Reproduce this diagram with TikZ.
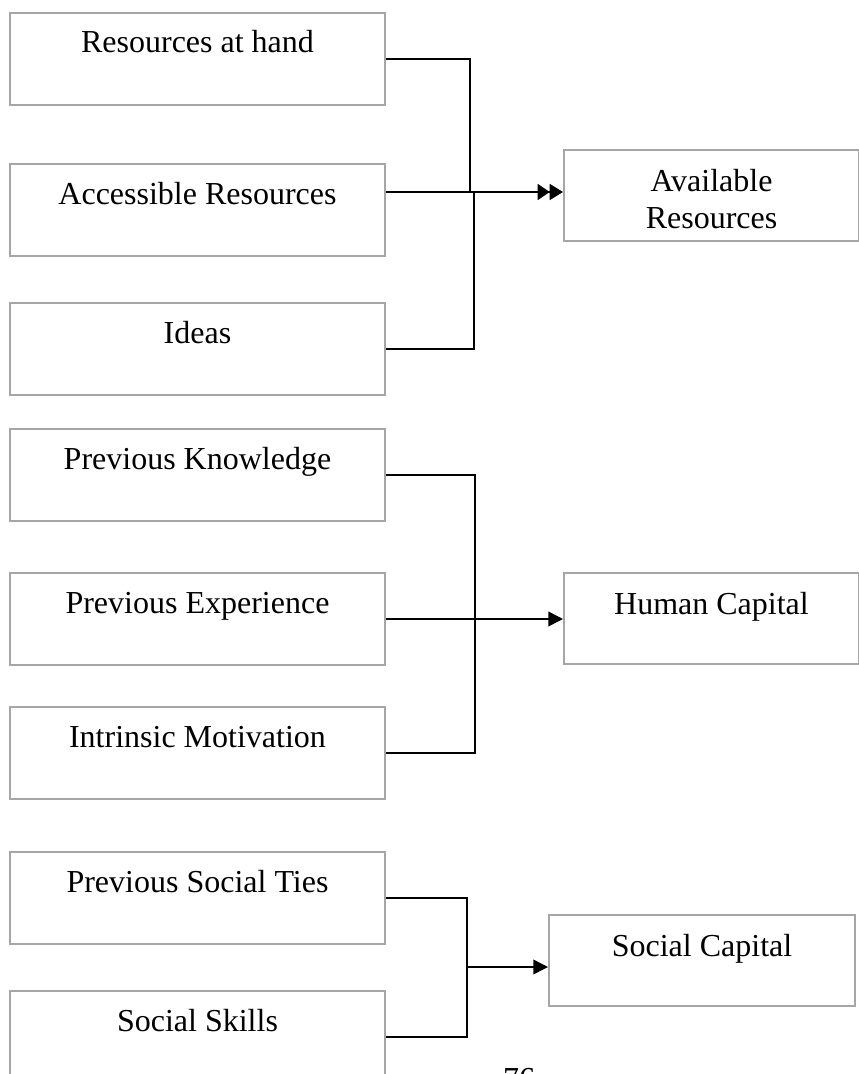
\documentclass[tikz,border=0pt]{standalone}
\usepackage{fontspec}
\setmainfont{Liberation Serif}
\usetikzlibrary{arrows.meta}
\definecolor{boxgray}{RGB}{166,166,166}

\begin{document}
\begin{tikzpicture}[x=0.75pt,y=0.75pt,yscale=-1,xscale=1,
    srcbox/.style={draw=boxgray, line width=1.5pt, anchor=north west, inner sep=0pt,
      minimum width=281.25pt, minimum height=69pt, text height=30pt, text depth=39pt,
      font=\fontsize{24}{27.75}\selectfont},
    sinkbox/.style={srcbox, minimum width=221.25pt, minimum height=68.25pt,
      text height=30.75pt, text depth=37.5pt, align=center},
    twoline/.style={text height=58.5pt, text depth=9.75pt},
    link/.style={line width=0.8pt},
    flowarrow/.style={line width=1.1pt, -{Triangle[length=11pt,width=11pt]}},
    flowdouble/.style={line width=1.3pt, -{Triangle[length=9pt,width=12pt,sep=0pt]Triangle[length=10pt,width=12pt]}}]
  %set diagram frame: 859 wide, 1074 high
  \useasboundingbox (0,0) rectangle (859,1074);
  \clip (0,0) rectangle (859,1074);

  %Shape: Rectangle -- available resources group
  \node[srcbox] (hand) at (9,12) {Resources at hand};
  \node[srcbox] (acc) at (9,163) {Accessible Resources};
  \node[srcbox] (ideas) at (9,302) {Ideas};
  \node[sinkbox, twoline] (avail) at (563,149) {Available\\Resources};

  %Shape: Rectangle -- human capital group
  \node[srcbox] (pk) at (9,428) {Previous Knowledge};
  \node[srcbox] (pe) at (9,572) {Previous Experience};
  \node[srcbox] (im) at (9,706) {Intrinsic Motivation};
  \node[sinkbox] (hc) at (563,572) {Human Capital};

  %Shape: Rectangle -- social capital group
  \node[srcbox] (pst) at (9,851) {Previous Social Ties};
  \node[srcbox] (ss) at (9,990) {Social Skills};
  \node[sinkbox, minimum width=229.5pt] (soc) at (548,914) {Social Capital};

  % Text Node
  \node[anchor=base, inner sep=0pt, font=\fontsize{24}{27.75}\selectfont] (pgnum) at (519,1089) {76};

  %Straight Lines
  \coordinate (jA1) at (470,192);
  \coordinate (jA2) at (474,192);
  \draw[link] (hand.east) -| (jA1);
  \draw[link] (ideas.east) -| (jA2);
  \draw[link] (acc.east |- jA2) -- (jA2);
  \draw[flowdouble] (jA2) -- (jA2 -| avail.west);

  \path (pe.east) ++(89,0) coordinate (jB);
  \draw[link] (pk.east) -| (jB) |- (im.east);
  \draw[link] (pe.east) -- (jB);
  \draw[flowarrow] (jB) -- (jB -| hc.west);

  \coordinate (jC) at (467,967);
  \draw[link] (pst.east) -| (jC) |- (ss.east);
  \draw[flowarrow] (jC) -- (jC -| soc.west);

\end{tikzpicture}
\end{document}
